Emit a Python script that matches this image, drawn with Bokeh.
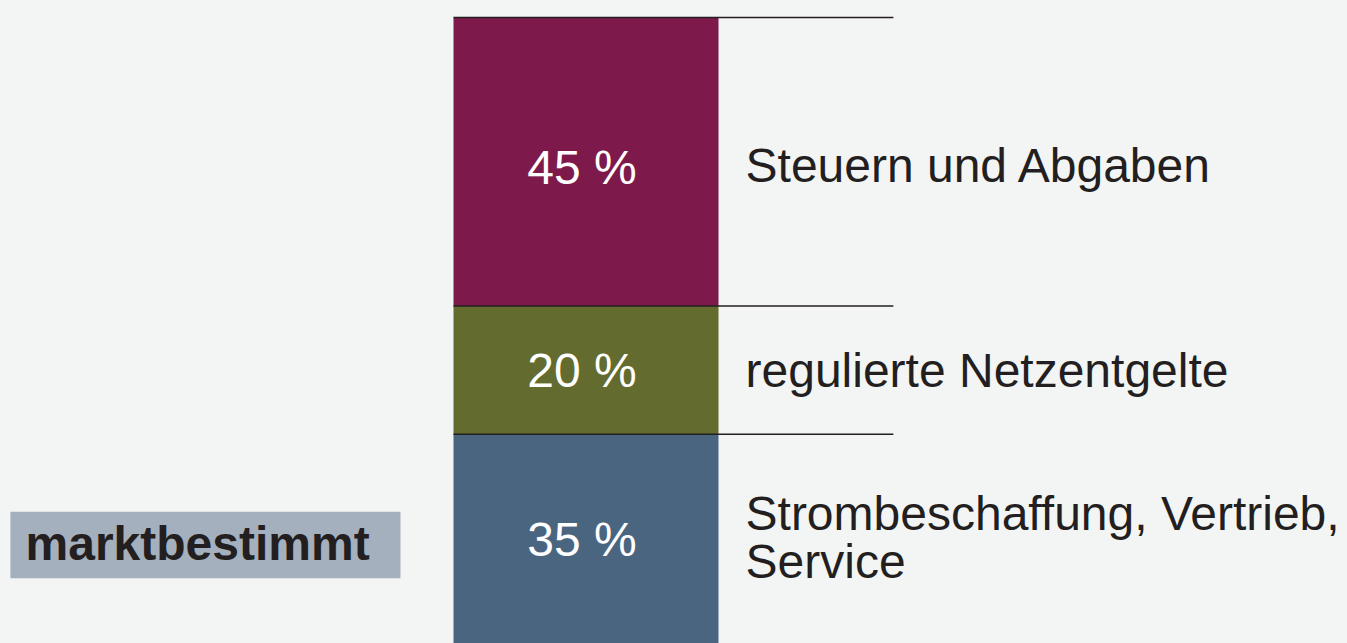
from bokeh.plotting import figure
from bokeh.models import Range1d, ColumnDataSource
from bokeh.core.properties import value
from bokeh.embed import file_html
from bokeh.resources import INLINE

# Data
categories = ["Strombeschaffung, Vertrieb,\nService", "regulierte Netzentgelte", "Steuern und Abgaben"]
shares = [35, 20, 45]
pct_labels = ["35 %", "20 %", "45 %"]
colors = ["#4a6580", "#636b2f", "#7d1a4b"]
group_label = "marktbestimmt"
group_range = [12.5, 22.9]

BG = "#f3f5f4"
TXT = "#231f20"

bottoms, tops = [], []
acc = 0
for s in shares:
    bottoms.append(acc)
    acc += s
    tops.append(acc)
mids = [(b + t) / 2 for b, t in zip(bottoms, tops)]

p = figure(width=1347, height=643, output_backend="svg", toolbar_location=None,
           x_range=Range1d(-2.2094, 2.8736), y_range=Range1d(2.34, 102.65),
           min_border=0, border_fill_color=BG, background_fill_color=BG,
           outline_line_color=None)
p.axis.visible = False
p.grid.visible = False

src = ColumnDataSource(dict(x=[0] * 3, lx=[0.602] * 3, bottom=bottoms, top=tops, color=colors,
                            mid=mids, pct=pct_labels, cat=categories,
                            yoff=[-9, 0, 4], pyoff=[-7, 0, 6]))

p.vbar(x="x", width=1.0, bottom="bottom", top="top", fill_color="color",
       line_color=None, source=src)

# boundary lines
p.segment(x0=[-0.5] * 3, x1=[1.16] * 3, y0=tops, y1=tops,
          line_color=TXT, line_width=1.5)

p.text(x="x", y="mid", text="pct", source=src, text_color="white",
       x_offset=-4, y_offset="pyoff",
       text_font=value("Liberation Sans"), text_font_size="48px",
       text_align="center", text_baseline="middle")

p.text(x="lx", y="mid", text="cat", source=src, text_color=TXT, y_offset="yoff",
       text_font=value("Liberation Sans"), text_font_size="48px",
       text_align="left", text_baseline="middle", text_line_height=0.9)

# marktbestimmt box
p.quad(left=[-2.172], right=[-0.700], bottom=[group_range[0]], top=[group_range[1]],
       fill_color="#a5b0be", line_color=None)
p.text(x=[-2.115], y=[(group_range[0] + group_range[1]) / 2], text=[group_label],
       y_offset=-2,
       text_color=TXT, text_font=value("Liberation Sans"), text_font_size="48px",
       text_font_style="bold", text_align="left", text_baseline="middle")

html = file_html(p, INLINE)
html = html.replace("<head>", "<head><style>html,body{background:#f3f5f4;}</style>", 1)
open("out.html", "w").write(html)
